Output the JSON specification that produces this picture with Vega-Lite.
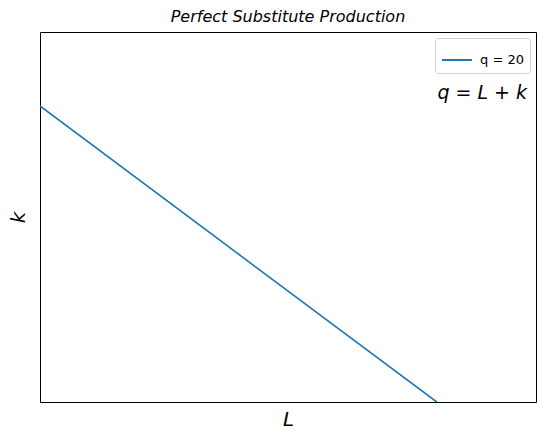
{
  "$schema": "https://vega.github.io/schema/vega-lite/v6.json",
  "width": 496,
  "height": 370,
  "autosize": {"type": "none"},
  "padding": {"left": 40, "top": 32, "right": 10, "bottom": 40},
  "background": "white",
  "config": {
    "view": {"stroke": "black", "strokeWidth": 1},
    "font": "DejaVu Sans"
  },
  "title": {
    "text": "Perfect Substitute Production",
    "font": "DejaVu Sans",
    "fontSize": 16,
    "fontStyle": "italic",
    "fontWeight": "normal",
    "color": "black",
    "offset": 7,
    "anchor": "middle"
  },
  "layer": [
    {
      "data": {"values": [
        {"L": 0, "k": 20, "series": "q = 20"},
        {"L": 20, "k": 0, "series": "q = 20"}
      ]},
      "mark": {"type": "line", "strokeWidth": 1.6, "clip": true},
      "encoding": {
        "x": {"field": "L", "type": "quantitative", "scale": {"domain": [0, 25], "nice": false, "zero": false},
          "axis": {"title": "L", "titleFont": "DejaVu Sans", "titleFontSize": 20, "titleFontStyle": "italic", "titleFontWeight": "normal", "titleColor": "black", "labels": false, "ticks": false, "grid": false, "domain": false, "titlePadding": 7}},
        "y": {"field": "k", "type": "quantitative", "scale": {"domain": [0, 25], "nice": false, "zero": false},
          "axis": {"title": "k", "titleFont": "DejaVu Sans", "titleFontSize": 20, "titleFontStyle": "italic", "titleFontWeight": "normal", "titleColor": "black", "labels": false, "ticks": false, "grid": false, "domain": false, "titlePadding": 12}},
        "color": {"field": "series", "type": "nominal", "scale": {"range": ["#1f77b4"]},
          "legend": {"title": null, "orient": "top-right", "offset": 6, "symbolType": "stroke", "symbolStrokeWidth": 2, "symbolSize": 900, "labelFont": "DejaVu Sans", "labelFontSize": 13, "labelColor": "black", "labelOffset": 7, "strokeColor": "#d0d0d0", "fillColor": "white", "padding": 6, "cornerRadius": 3}}
      }
    },
    {
      "data": {"values": [{"L": 24.55, "k": 20.9, "label": "q = L + k"}]},
      "mark": {"type": "text", "align": "right", "baseline": "middle", "font": "DejaVu Sans", "fontSize": 19, "fontStyle": "italic", "color": "black"},
      "encoding": {
        "x": {"field": "L", "type": "quantitative"},
        "y": {"field": "k", "type": "quantitative"},
        "text": {"field": "label"}
      }
    }
  ]
}
